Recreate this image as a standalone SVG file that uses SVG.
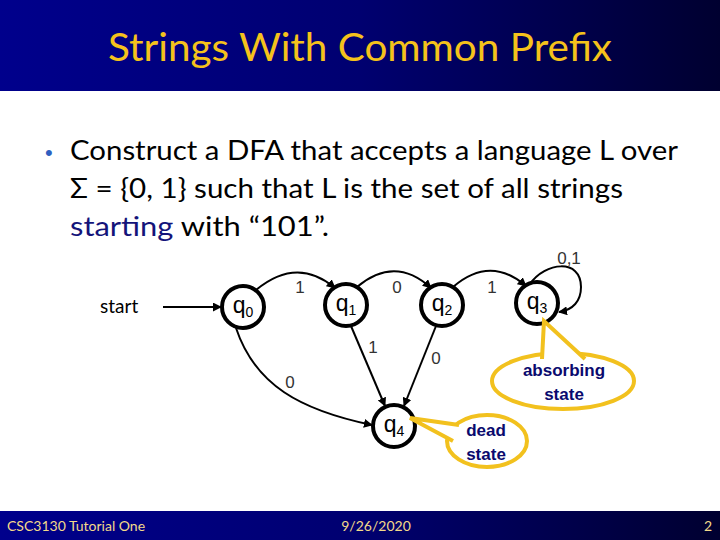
<svg xmlns="http://www.w3.org/2000/svg" width="720" height="540" viewBox="0 0 720 540">
<defs>
<linearGradient id="bar" x1="0" y1="0" x2="1" y2="0">
<stop offset="0" stop-color="#00008c"/>
<stop offset="0.5" stop-color="#000070"/>
<stop offset="1" stop-color="#000030"/>
</linearGradient>
<marker id="arr" markerUnits="userSpaceOnUse" viewBox="0 0 10 10" markerWidth="9" markerHeight="9" refX="9" refY="5" orient="auto">
<path d="M0,0 L10,5 L0,10 z" fill="#000"/>
</marker>
<style>
.body{font-family:Lato,"Liberation Sans",sans-serif;font-size:27px;fill:#000}
.state{fill:#fff;stroke:#000;stroke-width:4}
.lbl{font-family:"Liberation Sans",sans-serif;font-size:23px;fill:#000;text-anchor:middle}
.sub{font-size:14px}
.edge{fill:none;stroke:#000;stroke-width:2;marker-end:url(#arr)}
.el{font-family:"Liberation Sans",sans-serif;font-size:17px;fill:#333;text-anchor:middle}
.call{fill:#fff;stroke:#f2c11e;stroke-width:4}
.ct{font-family:"Liberation Sans",sans-serif;font-weight:bold;font-size:17px;fill:#0a0a6e;text-anchor:middle}
.ft{font-family:Lato,"Liberation Sans",sans-serif;font-size:14px;fill:#f3d98a}
</style>
</defs>
<rect width="720" height="540" fill="#fff"/>
<rect x="0" y="0" width="720" height="91" fill="url(#bar)"/>
<text x="360" y="61" font-family="Lato,'Liberation Sans',sans-serif" font-size="38" fill="#f5c21b" text-anchor="middle" textLength="504" lengthAdjust="spacingAndGlyphs">Strings With Common Prefix</text>

<text x="45" y="160" font-family="'Liberation Sans',sans-serif" font-size="22" fill="#2f5fc0">•</text>
<text class="body" x="70" y="160" textLength="608" lengthAdjust="spacingAndGlyphs">Construct a DFA that accepts a language L over</text>
<text class="body" x="70" y="198" textLength="553" lengthAdjust="spacingAndGlyphs">Σ = {0, 1} such that L is the set of all strings</text>
<text class="body" x="70" y="236" textLength="259" lengthAdjust="spacingAndGlyphs"><tspan fill="#14147a">starting</tspan> with “101”.</text>

<g id="start">
<text x="100" y="313" font-family="Lato,'Liberation Sans',sans-serif" font-size="19" fill="#000">start</text>
<line x1="163" y1="307" x2="221" y2="307" stroke="#000" stroke-width="2" marker-end="url(#arr)"/>
</g>

<g id="connectors">
<path class="edge" d="M256 290 Q297 256 335 288"/>
<path class="edge" d="M357 287 Q395 255 431 288"/>
<path class="edge" d="M453 287 Q490 255 526 286"/>
<path class="edge" d="M530 284 C545 262 581 258 581 287 C581 301 573 310 559 312"/>
<path class="edge" d="M351 326 L385 406"/>
<path class="edge" d="M436 326 L404 406"/>
<path class="edge" d="M236 328 C255 385 300 410 372 425"/>
<text class="el" x="300" y="293">1</text>
<text class="el" x="397" y="293">0</text>
<text class="el" x="492" y="293">1</text>
<text class="el" x="569" y="264">0,1</text>
<text class="el" x="373" y="353">1</text>
<text class="el" x="436" y="364">0</text>
<text class="el" x="290" y="388">0</text>
</g>

<g id="q0"><circle class="state" cx="243" cy="307" r="21"/><text class="lbl" x="243" y="313">q<tspan class="sub" dy="4">0</tspan></text></g>
<g id="q1"><circle class="state" cx="346" cy="305" r="21"/><text class="lbl" x="346" y="311">q<tspan class="sub" dy="4">1</tspan></text></g>
<g id="q2"><circle class="state" cx="442" cy="305" r="21"/><text class="lbl" x="442" y="311">q<tspan class="sub" dy="4">2</tspan></text></g>
<g id="q3"><circle class="state" cx="537" cy="303" r="21"/><text class="lbl" x="537" y="309">q<tspan class="sub" dy="4">3</tspan></text></g>
<g id="q4"><circle class="state" cx="394" cy="426" r="21"/><text class="lbl" x="394" y="432">q<tspan class="sub" dy="4">4</tspan></text></g>

<g id="absorbing">
<ellipse class="call" cx="563" cy="381" rx="71" ry="28"/>
<path class="call" d="M542 359 L544 321 L585 359"/>
<text class="ct" x="564" y="376">absorbing</text>
<text class="ct" x="564" y="400">state</text>
</g>
<g id="dead">
<ellipse class="call" cx="487" cy="441" rx="40" ry="26"/>
<path class="call" d="M459 425 L410 418 L453 441"/>
<text class="ct" x="486" y="436">dead</text>
<text class="ct" x="486" y="460">state</text>
</g>

<rect x="0" y="511" width="720" height="29" fill="url(#bar)"/>
<text class="ft" x="7" y="531">CSC3130 Tutorial One</text>
<text class="ft" x="376" y="531" text-anchor="middle">9/26/2020</text>
<text class="ft" x="712" y="531" text-anchor="end">2</text>
</svg>
